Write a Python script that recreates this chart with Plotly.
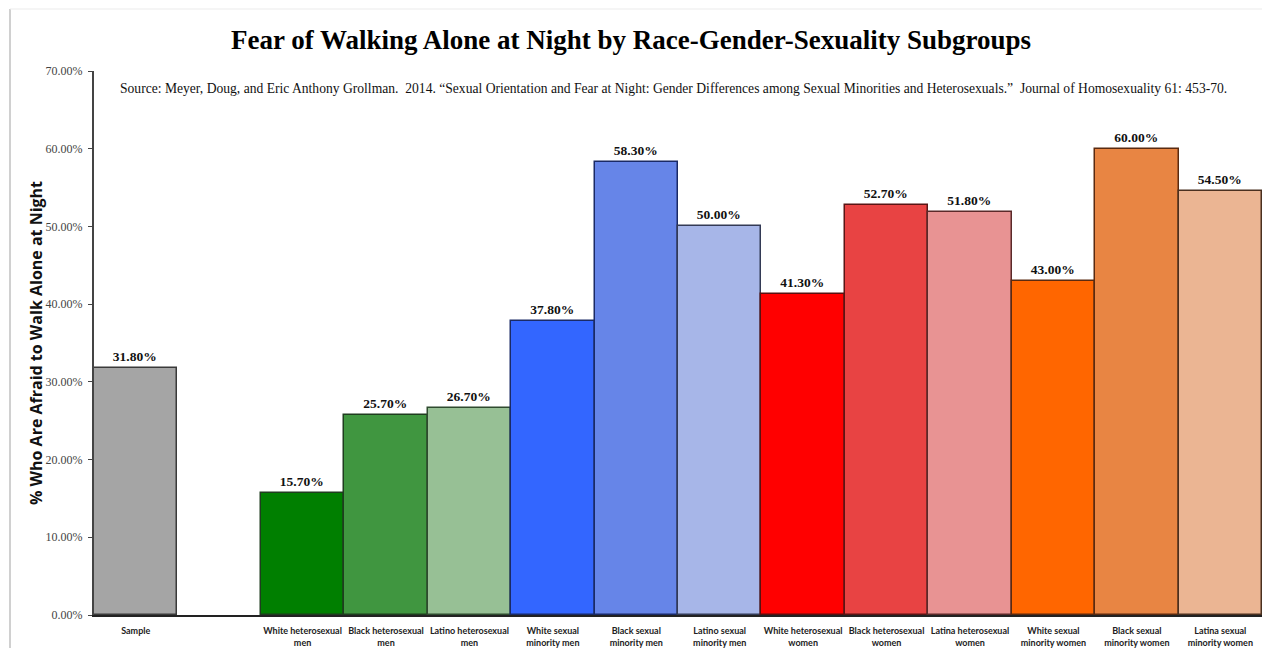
import plotly.graph_objects as go

categories = ["Sample", "", "White heterosexual<br>men", "Black heterosexual<br>men",
              "Latino heterosexual<br>men", "White sexual<br>minority men",
              "Black sexual<br>minority men", "Latino sexual<br>minority men",
              "White heterosexual<br>women", "Black heterosexual<br>women",
              "Latina heterosexual<br>women", "White sexual<br>minority women",
              "Black sexual<br>minority women", "Latina sexual<br>minority women"]
values = [31.8, None, 15.7, 25.7, 26.7, 37.8, 58.3, 50.0, 41.3, 52.7, 51.8, 43.0, 60.0, 54.5]
fills = ["#A5A5A5", "#FFFFFF", "#007F00", "#409640", "#97C095", "#3366FF", "#6685E8",
         "#A7B6E8", "#FF0000", "#E84343", "#E89393", "#FF6600", "#E88543", "#EBB593"]
edges = ["#3a3a3a", "#FFFFFF", "#1f3d1f", "#1f3d1f", "#2f4a2f", "#1a2a66", "#1a2a66",
         "#333a55", "#5a1010", "#5a1515", "#5a2a2a", "#5a2a10", "#5a2a10", "#4a3020"]
yticks = [0, 10, 20, 30, 40, 50, 60, 70]
ytick_labels = ["0.00%", "10.00%", "20.00%", "30.00%", "40.00%", "50.00%", "60.00%", "70.00%"]

xs = list(range(len(categories)))
labels = ["" if v is None else f"{v:.2f}%" for v in values]

fig = go.Figure(go.Bar(
    x=xs, y=values, width=1.0,
    marker=dict(color=fills, line=dict(color=edges, width=1.5)),
    text=labels, textposition="outside", cliponaxis=False,
    textfont=dict(family="Liberation Serif", size=13.5, color="#111111", weight="bold"),
    hoverinfo="skip",
))

fig.update_layout(
    width=1262, height=648,
    margin=dict(l=94, r=0, t=71, b=33),
    paper_bgcolor="white", plot_bgcolor="white",
    showlegend=False, bargap=0,
)
fig.update_xaxes(
    tickvals=xs, ticktext=categories, range=[-0.5, len(categories) - 0.5],
    showline=True, linecolor="#222222", linewidth=2, ticks="",
    ticklabelstandoff=6,
    tickfont=dict(family="Lato", size=9, color="#222222", weight="bold"),
    showgrid=False, zeroline=False,
)
fig.update_yaxes(
    range=[0, 70], tickvals=yticks, ticktext=ytick_labels,
    showline=True, linecolor="#444444", linewidth=2, ticks="outside", ticklen=4,
    tickcolor="#444444", ticklabelstandoff=3,
    tickfont=dict(family="Liberation Serif", size=12, color="#444444"),
    showgrid=False, zeroline=False,
)

fig.add_annotation(
    text="Fear of Walking Alone at Night by Race-Gender-Sexuality Subgroups",
    xref="paper", yref="paper", x=(631 - 94) / 1168, y=1 + (71 - 40) / 544,
    showarrow=False, xanchor="center", yanchor="middle",
    font=dict(family="Liberation Serif", size=27, color="#000000", weight="bold"),
)
fig.add_annotation(
    text="Source: Meyer, Doug, and Eric Anthony Grollman.  2014. \u201cSexual Orientation and Fear at Night: Gender Differences among Sexual Minorities and Heterosexuals.\u201d  Journal of Homosexuality 61: 453-70.",
    xref="paper", yref="paper", x=(118 - 94) / 1168, y=1 - (88 - 71) / 544,
    showarrow=False, xanchor="left", yanchor="middle",
    font=dict(family="Liberation Serif", size=13.6, color="#111111"),
)
fig.add_annotation(
    text="% Who Are Afraid to Walk Alone at Night",
    xref="paper", yref="paper", x=(36 - 94) / 1168, y=1 - (343 - 71) / 544,
    showarrow=False, textangle=-90, xanchor="center", yanchor="middle",
    font=dict(family="Open Sans", size=16, color="#111111", weight="bold"),
)
# light frame lines at left and top of image
fig.add_shape(type="line", xref="paper", yref="paper",
              x0=(10 - 94) / 1168, x1=(10 - 94) / 1168, y0=-33 / 544, y1=1 + (71 - 9) / 544,
              line=dict(color="#D0D0D0", width=2))
fig.add_shape(type="line", xref="paper", yref="paper",
              x0=(10 - 94) / 1168, x1=1, y0=1 + (71 - 9) / 544, y1=1 + (71 - 9) / 544,
              line=dict(color="#EBEBEB", width=1))

fig.write_html("out.html", config={"displayModeBar": False},
               post_script="document.body.style.margin='0';document.body.style.overflow='hidden';")
